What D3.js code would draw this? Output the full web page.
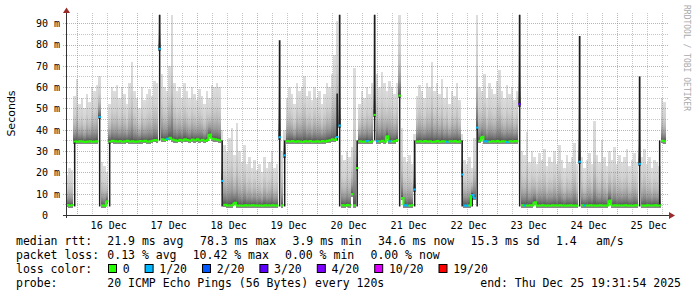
<!DOCTYPE html>
<html lang="en">
<head>
<meta charset="UTF-8">
<title>SmokePing latency</title>
<script src="https://d3js.org/d3.v7.min.js"></script>
<style>
  body { margin: 0; background: #fff; }
  svg text { font-family: "DejaVu Sans Mono", monospace; fill: #000; }
  .ylab text { white-space: pre; }
</style>
</head>
<body>
<svg width="697" height="297"></svg>
<script>
    // time span of the graph, one smoke column per hour
    const startTime = "2025-12-15T19:31:54Z";
    const endTime = "2025-12-25T19:31:54Z";
    const firstColumn = "2025-12-15T19:30:00Z";

    // median rtt per column (ms)
    const median = [
        4.7, 4.5, 4.6, 34.5, 34.4, 34.6, 34.5, 34.3, 34.5, 34.6,
        34.4, 34.5, 34.6, 46, 4.4, 4.3, 6.5, 34.5, 34.8, 34.6,
        34.5, 34.7, 34.4, 34.6, 34.8, 34.5, 34.6, 34.4, 34.5, 34.7,
        34.6, 34.8, 34.5, 34.6, 34.9, 35.2, 35.0, 78, 35.6, 35.2,
        35.8, 36.2, 35.4, 35.1, 34.8, 35.3, 35.0, 35.6, 35.2, 34.9,
        35.4, 35.1, 35.5, 35.0, 35.3, 34.9, 35.2, 37.8, 35.8, 35.6,
        35.3, 35.0, 16, 4.8, 4.5, 4.4, 4.6, 5.8, 4.4, 4.5,
        4.3, 4.6, 4.5, 4.4, 4.6, 4.5, 4.4, 4.5, 4.3, 4.6,
        4.5, 4.4, 4.6, 4.5, 4.4, 36.5, 4.5, 28, 34.6, 34.5,
        34.7, 34.4, 34.6, 34.5, 34.3, 34.6, 34.5, 34.7, 34.4, 34.5,
        34.6, 34.4, 34.7, 34.5, 34.8, 35.1, 35.6, 35.2, 36.6, 42,
        4.6, 4.4, 4.7, 4.5, 9.8, 4.5, 22, 34.6, 34.4, 34.5,
        34.7, 34.3, 34.6, 47, 34.6, 34.5, 34.8, 34.4, 37.0, 34.6,
        34.5, 34.7, 35.2, 56, 8.0, 4.6, 4.4, 4.5, 4.6, 12,
        34.5, 34.6, 34.4, 34.7, 34.5, 34.6, 34.3, 34.5, 34.7, 34.4,
        34.6, 34.5, 34.4, 34.6, 34.5, 34.7, 34.4, 34.6, 19, 4.4,
        4.5, 4.6, 9.4, 8.0, 41, 34.8, 36.7, 34.6, 34.5, 34.4,
        34.6, 34.5, 34.7, 34.4, 34.6, 34.5, 34.3, 34.6, 34.5, 34.7,
        34.6, 52, 4.6, 4.5, 4.4, 4.6, 4.5, 6.0, 4.4, 4.5,
        4.6, 4.4, 4.5, 4.3, 4.6, 4.5, 4.4, 4.6, 4.5, 4.4,
        4.5, 4.6, 4.4, 4.5, 4.3, 25, 4.6, 4.5, 4.4, 4.6,
        4.5, 4.4, 4.5, 4.6, 4.4, 4.5, 4.5, 6.8, 4.4, 4.6,
        4.5, 4.4, 4.5, 4.6, 4.4, 4.5, 4.3, 4.6, 4.5, 24,
        4.4, 4.5, 4.6, 4.4, 4.5, 4.6, 4.4, 4.5, 34.8, 34.6
    ];

    // slowest ping per column (top of the smoke, ms)
    const smokeTop = [
        19, 22, 21, 56, 64, 52, 55, 50, 57, 53,
        60, 58, 61, 65, 25, 23, 20, 52, 60, 58,
        61, 55, 60, 57, 52, 62, 72, 58, 55, 50,
        60, 54, 57, 59, 56, 63, 62, 94, 66, 60,
        58, 70, 94, 62, 58, 60, 55, 62, 58, 55,
        60, 57, 54, 59, 56, 52, 58, 55, 61, 60,
        62, 60, 40, 33, 30, 36, 41, 28, 43, 30,
        25, 33, 24, 27, 22, 26, 21, 24, 20, 27,
        22, 25, 30, 22, 24, 82, 30, 40, 55, 60,
        57, 52, 62, 58, 60, 65, 56, 58, 54, 60,
        55, 58, 52, 57, 62, 60, 66, 75, 91, 94,
        28, 26, 30, 27, 32, 69, 35, 52, 58, 55,
        60, 57, 62, 94, 66, 60, 67, 62, 58, 63,
        60, 57, 62, 94, 41, 27, 25, 28, 24, 38,
        56, 61, 58, 55, 62, 60, 72, 58, 62, 57,
        64, 55, 60, 52, 58, 56, 62, 54, 38, 26,
        24, 27, 22, 36, 94, 60, 58, 66, 55, 62,
        59, 57, 63, 68, 58, 55, 61, 57, 60, 54,
        58, 94, 30, 28, 39, 25, 30, 27, 24, 29,
        26, 31, 23, 27, 25, 30, 24, 33, 26, 22,
        28, 25, 27, 34, 24, 84, 27, 22, 26, 29,
        24, 44, 28, 25, 35, 27, 23, 30, 26, 32,
        24, 28, 25, 27, 31, 23, 26, 29, 25, 65,
        27, 31, 24, 27, 22, 26, 25, 23, 55, 53
    ];

    // columns with lost pings (of 20)
    const lossIdx = [13, 37, 40, 62, 85, 87, 108, 109, 120, 124, 129, 135, 136, 139, 152,
                     158, 159, 160, 162, 163, 164, 167, 168, 176, 181, 183, 205, 207, 229];
    const lossCount = [1, 1, 1, 1, 1, 1, 1, 1, 1, 1, 1, 1, 1, 1, 1,
                       1, 1, 1, 1, 1, 1, 1, 1, 1, 3, 1, 1, 1, 1];

    // dark vertical streaks (spread of pings inside one column)
    const spikeIdx = [3, 13, 17, 37, 62, 85, 87, 108, 109, 116, 123, 133, 139, 158, 162, 164, 181, 205, 229, 237];
    const spikeLow = [4, 4, 4, 35, 4, 4, 4, 35, 4, 4, 35, 4, 4, 4, 4, 4, 4, 4, 4, 4];
    const spikeHigh = [35, 46, 35, 94, 35, 82, 35, 57, 94, 35, 94, 56, 35, 35, 10, 41, 94, 84, 65, 35];

    const yTicks = [0, 10, 20, 30, 40, 50, 60, 70, 80, 90];
    const dayLabels = ["2025-12-16", "2025-12-17", "2025-12-18", "2025-12-19", "2025-12-20",
                       "2025-12-21", "2025-12-22", "2025-12-23", "2025-12-24", "2025-12-25"];

    const lossSteps = [1, 2, 3, 4, 10, 19];
    const lossColors = ["#26ff00", "#00b8ff", "#0059ff", "#5e00ff", "#7e00ff", "#dd00ff", "#ff0000"];
    const lossLabels = ["0", "1/20", "2/20", "3/20", "4/20", "10/20", "19/20"];

    const rttStats = ["21.9 ms avg", "78.3 ms max", "3.9 ms min", "34.6 ms now", "15.3 ms sd", "1.4", "am/s"];
    const lossStats = ["0.13 % avg", "10.42 % max", "0.00 % min", "0.00 % now"];
    const probeText = "20 ICMP Echo Pings (56 Bytes) every 120s";
    const endText = "end: Thu Dec 25 19:31:54 2025";

    const svg = d3.select("svg");

    const x = d3.scaleUtc()
        .domain([new Date(startTime), new Date(endTime)])
        .range([66, 666]);
    const y = d3.scaleLinear().domain([0, 94.8]).range([215, 13]);
    const lossColor = d3.scaleThreshold().domain(lossSteps).range(lossColors);

    const col0 = new Date(firstColumn);
    const colX = i => Math.max(66, Math.min(666, x(d3.utcHour.offset(col0, i))));

    const grad = svg.append("defs").append("linearGradient")
        .attr("id", "smoke").attr("x1", 0).attr("y1", 1).attr("x2", 0).attr("y2", 0);
    [[0, "#505050"], [0.08, "#747474"], [0.2, "#9a9a9a"], [0.38, "#bababa"], [0.6, "#d0d0d0"], [1, "#dddddd"]]
        .forEach(s => grad.append("stop").attr("offset", s[0]).attr("stop-color", s[1]));

    const cols = median.map((m, i) => ({ i, m, top: smokeTop[i], x0: colX(i), x1: colX(i + 1) }));

    // smoke
    const smoke = svg.append("g").attr("shape-rendering", "crispEdges");
    smoke.selectAll("rect.s").data(cols).enter().append("rect")
        .attr("x", d => d.x0).attr("width", d => d.x1 - d.x0)
        .attr("y", d => y(d.top)).attr("height", d => y(d.m) - y(d.top))
        .attr("fill", "url(#smoke)");
    smoke.selectAll("rect.b").data(cols).enter().append("rect")
        .attr("x", d => d.x0).attr("width", d => d.x1 - d.x0)
        .attr("y", d => y(d.m)).attr("height", 2.5)
        .attr("fill", "#888");

    // grid
    const grid = svg.append("g").attr("stroke-dasharray", "1,1").attr("shape-rendering", "crispEdges");
    const hours = d3.utcHour.every(6).range(...x.domain());
    grid.selectAll("line.v").data(hours).enter().append("line")
        .attr("x1", d => Math.round(x(d)) + 0.5).attr("x2", d => Math.round(x(d)) + 0.5)
        .attr("y1", 13).attr("y2", 215)
        .attr("stroke", d => d.getUTCHours() === 0 ? "rgba(222,80,80,0.55)" : "rgba(128,128,128,0.45)");
    grid.selectAll("line.h").data(d3.range(5, 95, 5)).enter().append("line")
        .attr("x1", 63).attr("x2", 668)
        .attr("y1", d => Math.round(y(d)) + 0.5).attr("y2", d => Math.round(y(d)) + 0.5)
        .attr("stroke", d => d % 10 === 0 ? "rgba(222,80,80,0.55)" : "rgba(128,128,128,0.45)");

    // streaks
    svg.append("g").selectAll("rect").data(spikeIdx).enter().append("rect")
        .attr("x", (d, k) => (colX(d) + colX(d + 1)) / 2 - 0.75)
        .attr("width", 1.5)
        .attr("y", (d, k) => y(spikeHigh[k]))
        .attr("height", (d, k) => y(spikeLow[k]) - y(spikeHigh[k]))
        .attr("fill", "#1c1c1c");

    // median line coloured by loss
    const lossOf = i => { const k = lossIdx.indexOf(i); return k < 0 ? 0 : lossCount[k]; };
    svg.append("g").attr("fill", "none").attr("stroke-width", 2)
        .selectAll("path").data(cols).enter().append("path")
        .attr("d", d => {
            let p = `M${d.x0},${y(d.m)}H${d.x1}`;
            const n = median[d.i + 1];
            if (n !== undefined && Math.abs(n - d.m) < 5) p += `V${y(n)}`;
            return p;
        })
        .attr("stroke", d => lossColor(lossOf(d.i)));

    // axes
    const yAxis = svg.append("g").attr("class", "ylab")
        .attr("transform", "translate(66,0)")
        .call(d3.axisLeft(y).tickValues(yTicks).tickSize(0).tickPadding(6)
            .tickFormat(d => d === 0 ? "0  " : d + " m"));
    yAxis.select(".domain").remove();
    yAxis.attr("font-family", "DejaVu Sans Mono").attr("font-size", 10);
    yAxis.selectAll("text").attr("xml:space", "preserve").attr("dy", "0.34em");

    const xAxis = svg.append("g")
        .attr("transform", "translate(1,215)")
        .call(d3.axisBottom(x)
            .tickValues(dayLabels.map(s => new Date(s + "T12:00:00Z")))
            .tickSize(0).tickPadding(7)
            .tickFormat(d3.utcFormat("%d %b")));
    xAxis.select(".domain").remove();
    xAxis.attr("font-family", "DejaVu Sans Mono").attr("font-size", 10);

    svg.append("line").attr("x1", 66.5).attr("x2", 66.5).attr("y1", 218).attr("y2", 12)
        .attr("stroke", "#333");
    svg.append("line").attr("x1", 63).attr("x2", 669).attr("y1", 215.5).attr("y2", 215.5)
        .attr("stroke", "#333");
    svg.append("path").attr("d", "M66.5,7.5L70,13L63,13Z").attr("fill", "#9b2a2a");
    svg.append("path").attr("d", "M675,215.5L669,212L669,219Z").attr("fill", "#9b2a2a");

    svg.append("text")
        .attr("transform", "translate(15,113.5) rotate(-90)")
        .attr("text-anchor", "middle")
        .style("font-family", "'DejaVu Sans', sans-serif")
        .attr("font-size", 11)
        .text("Seconds");

    svg.append("text")
        .attr("transform", "translate(684,5) rotate(90)")
        .attr("font-size", 8)
        .style("fill", "#aaa")
        .text("RRDTOOL / TOBI OETIKER");

    // legend
    const leg = svg.append("g").attr("font-size", 11.5).attr("xml:space", "preserve");
    const rows = [244.7, 258.7, 272.7, 286.7];
    const addText = (tx, ty, s) => leg.append("text").attr("x", tx).attr("y", ty).text(s);

    addText(16, rows[0], "median rtt:");
    [107.3, 200, 292.5, 378, 470.5, 556, 596].forEach((px, k) => addText(px, rows[0], rttStats[k]));

    addText(16, rows[1], "packet loss:");
    [107.3, 192.7, 285, 370.5].forEach((px, k) => addText(px, rows[1], lossStats[k]));

    addText(16, rows[2], "loss color:");
    [108.5, 145.1, 202.5, 259.9, 317.3, 374.7, 439].forEach((px, k) => {
        leg.append("rect").attr("x", px).attr("y", 264.5).attr("width", 8).attr("height", 8)
            .attr("fill", lossColors[k]).attr("stroke", "#000").attr("stroke-width", 1);
        addText(px + 14.2, rows[2], lossLabels[k]);
    });

    addText(16, rows[3], "probe:");
    addText(107.3, rows[3], probeText);
    addText(681, rows[3], endText).attr("text-anchor", "end");
</script>
</body>
</html>
